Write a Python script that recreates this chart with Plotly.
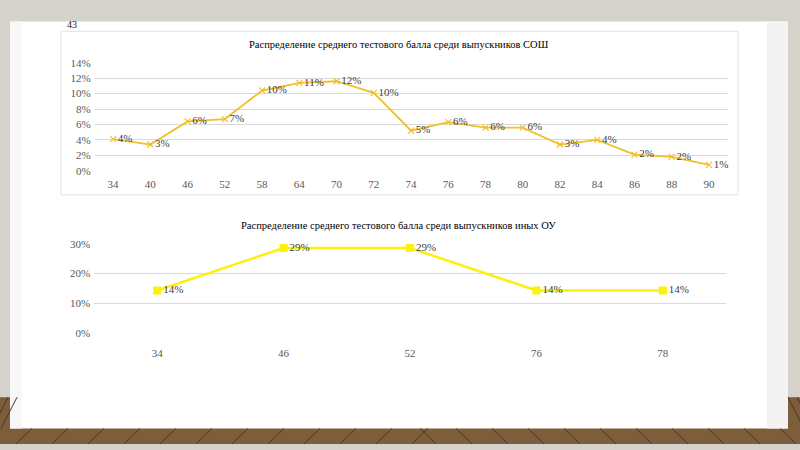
import plotly.graph_objects as go

# Data: chart 1 (СОШ)
scores_sosh = ['34', '40', '46', '52', '58', '64', '70', '72', '74',
               '76', '78', '80', '82', '84', '86', '88', '90']
share_sosh = [0.041, 0.034, 0.064, 0.067, 0.104, 0.114, 0.116, 0.101, 0.052,
              0.063, 0.056, 0.056, 0.034, 0.040, 0.021, 0.018, 0.0076]

# Data: chart 2 (иные ОУ)
scores_ou = ['34', '46', '52', '76', '78']
share_ou = [0.143, 0.286, 0.286, 0.143, 0.143]

title_1 = 'Распределение среднего тестового балла среди выпускников СОШ'
title_2 = 'Распределение среднего тестового балла среди выпускников иных ОУ'

W, H = 800, 450
serif = 'Liberation Serif, Times New Roman, serif'


def px(x):
    return x / W


def py(y):
    return 1 - y / H


fig = go.Figure()

fig.add_trace(go.Scatter(
    x=scores_sosh, y=share_sosh, xaxis='x', yaxis='y',
    mode='lines+markers+text',
    line=dict(color='#f2bf2c', width=1.8),
    marker=dict(symbol='x-thin', size=6, line=dict(color='#f2bf2c', width=1.2)),
    text=[f'{round(v * 100)}%' for v in share_sosh],
    textposition='middle right',
    textfont=dict(family=serif, size=11, color='#404040'),
    cliponaxis=False, hoverinfo='skip', showlegend=False))

fig.add_trace(go.Scatter(
    x=scores_ou, y=share_ou, xaxis='x2', yaxis='y2',
    mode='lines+markers+text',
    line=dict(color='#fbf10a', width=2.5),
    marker=dict(symbol='square', size=8, color='#fbf10a'),
    text=[f'{round(v * 100)}%' for v in share_ou],
    textposition='middle right',
    textfont=dict(family=serif, size=11, color='#404040'),
    cliponaxis=False, hoverinfo='skip', showlegend=False))

axis_common = dict(showline=False, zeroline=False, ticks='',
                   tickfont=dict(family=serif, size=11, color='#595959'))

shapes = [
    # background around the slide
    dict(type='rect', xref='paper', yref='paper', x0=0, x1=1, y0=0, y1=1,
         fillcolor='#d5d2cc', line_width=0, layer='below'),
    # wood floor
    dict(type='rect', xref='paper', yref='paper', x0=0, x1=1, y0=0, y1=py(402),
         fillcolor='#7d5d3b', line_width=0, layer='below'),
    # slide
    dict(type='rect', xref='paper', yref='paper', x0=px(10), x1=px(788),
         y0=py(434), y1=py(16), fillcolor='#ffffff', line_width=0, layer='below'),
    dict(type='rect', xref='paper', yref='paper', x0=px(10), x1=px(22),
         y0=py(434), y1=py(16), fillcolor='#f7f7f7', line_width=0, layer='below'),
    dict(type='rect', xref='paper', yref='paper', x0=px(767), x1=px(788),
         y0=py(434), y1=py(16), fillcolor='#f3f3f3', line_width=0, layer='below'),
    # chart 1 border
    dict(type='rect', xref='paper', yref='paper', x0=px(61), x1=px(738),
         y0=py(194), y1=py(26), fillcolor='#ffffff',
         line=dict(color='#e3e3e3', width=1), layer='below'),
]
# plank seams on the floor
for x0 in range(-20, 420, 36):
    shapes.append(dict(type='line', xref='paper', yref='paper',
                       x0=px(x0), x1=px(x0 + 16), y0=py(450), y1=py(434),
                       line=dict(color='#4e3720', width=1), layer='below'))
for x0 in range(420, 820, 36):
    shapes.append(dict(type='line', xref='paper', yref='paper',
                       x0=px(x0 + 16), x1=px(x0), y0=py(450), y1=py(434),
                       line=dict(color='#4e3720', width=1), layer='below'))
for x0 in range(-8, 10, 9):
    shapes.append(dict(type='line', xref='paper', yref='paper',
                       x0=px(x0), x1=px(x0 + 16), y0=py(434), y1=py(402),
                       line=dict(color='#4e3720', width=1), layer='below'))
for x0 in range(788, 810, 9):
    shapes.append(dict(type='line', xref='paper', yref='paper',
                       x0=px(x0 + 16), x1=px(x0), y0=py(434), y1=py(402),
                       line=dict(color='#4e3720', width=1), layer='below'))

fig.update_layout(
    width=W, height=H,
    margin=dict(l=0, r=0, t=0, b=0),
    paper_bgcolor='#d5d2cc', plot_bgcolor='rgba(0,0,0,0)',
    xaxis=dict(axis_common, type='category', domain=[px(94.5), px(727.6)],
               range=[-0.5, len(scores_sosh) - 0.5],
               anchor='y', showgrid=False, ticklabelstandoff=5),
    yaxis=dict(axis_common, domain=[py(169.3), py(58.3)], range=[0, 0.14],
               dtick=0.02, tickformat='.0%', showgrid=True,
               gridcolor='#d9d9d9', gridwidth=1, anchor='x', ticksuffix=' '),
    xaxis2=dict(axis_common, type='category', domain=[px(94), px(726)],
                range=[-0.5, len(scores_ou) - 0.5],
                anchor='y2', showgrid=False, ticklabelstandoff=12),
    yaxis2=dict(axis_common, domain=[py(336), py(244.3)], range=[0, 0.30],
                dtick=0.10, tickformat='.0%', showgrid=True,
                gridcolor='#d9d9d9', gridwidth=1, anchor='x2', ticksuffix=' '),
    shapes=shapes,
    annotations=[
        dict(text=title_1, xref='paper', yref='paper', x=px(399), y=py(40),
             yanchor='middle', showarrow=False,
             font=dict(family=serif, size=10.5, color='#000000')),
        dict(text=title_2, xref='paper', yref='paper', x=px(398), y=py(226),
             yanchor='middle', showarrow=False,
             font=dict(family=serif, size=10.5, color='#000000')),
        dict(text='43', xref='paper', yref='paper', x=px(65), y=py(19),
             yanchor='middle', showarrow=False,
             font=dict(family=serif, size=10, color='#222222')),
    ],
)

fig.write_html('out.html', config={'displayModeBar': False},
               post_script="document.body.style.margin='0';")
